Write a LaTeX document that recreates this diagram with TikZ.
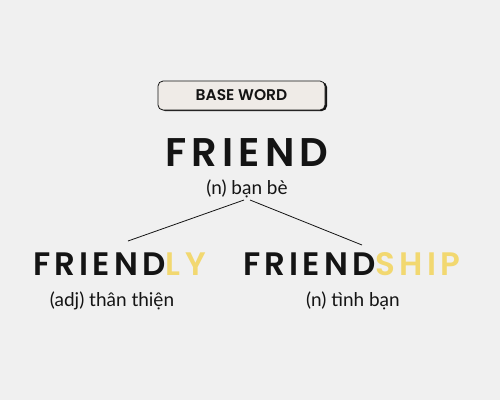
\documentclass[tikz,border=0pt]{standalone}
\usepackage{fontspec}
\setmainfont[BoldFont={Poppins SemiBold}]{Poppins}
\newfontfamily\wordfont[LetterSpace=13, BoldFont={Poppins SemiBold}]{Poppins}
\newfontfamily\vnfont{Lato}
\definecolor{bgc}{RGB}{240,240,240}
\definecolor{boxc}{RGB}{239,235,231}
\definecolor{ylw}{RGB}{242,216,112}
\definecolor{ink}{RGB}{20,20,20}
\begin{document}
\begin{tikzpicture}[x=1pt,y=-1pt,
  big/.style={font=\wordfont\bfseries\fontsize{40}{44}\selectfont, text=ink, inner sep=0pt, text depth=0pt},
  mid/.style={font=\wordfont\bfseries\fontsize{32.5}{36}\selectfont, text=ink, inner sep=0pt, text depth=0pt},
  gloss/.style={font=\vnfont\fontsize{19}{21}\selectfont, text=ink, inner sep=0pt, text height=13pt},
  link/.style={draw=ink, line width=0.8pt}]
\fill[bgc] (0,0) rectangle (500,400);
\useasboundingbox (0,0) rectangle (500,400);
% base word box
\fill[ink, rounded corners=5pt] (160,82) rectangle (327,111);
\node[draw=ink, fill=boxc, line width=0.8pt, rounded corners=5pt, minimum width=167pt, minimum height=29pt, inner sep=0pt,
  font=\bfseries\fontsize{15.5}{17}\selectfont, text=ink] (base) at (241.5,95.5) {BASE WORD};
\node[big, anchor=base] (root) at (247,166.5) {FRIEND};
\node[gloss, anchor=base] (rootg) at (247,194) {(n) bạn bè};
\coordinate (top) at (247,200);
\node[mid, anchor=base west] (ly) at (33,275) {FRIEND\textcolor{ylw}{LY}};
\node[gloss, anchor=base] (lyg) at (112,306) {(adj) thân thiện};
\node[mid, anchor=base west] (ship) at (243,275) {FRIEND\textcolor{ylw}{SHIP}};
\node[gloss, anchor=base] (shipg) at (353,306) {(n) tình bạn};
\coordinate (lend) at (128,241);
\coordinate (rend) at (362,245);
\draw[link] ([xshift=-3pt]top) -- (lend);
\draw[link] ([xshift=3pt]top) -- (rend);
\end{tikzpicture}
\end{document}
